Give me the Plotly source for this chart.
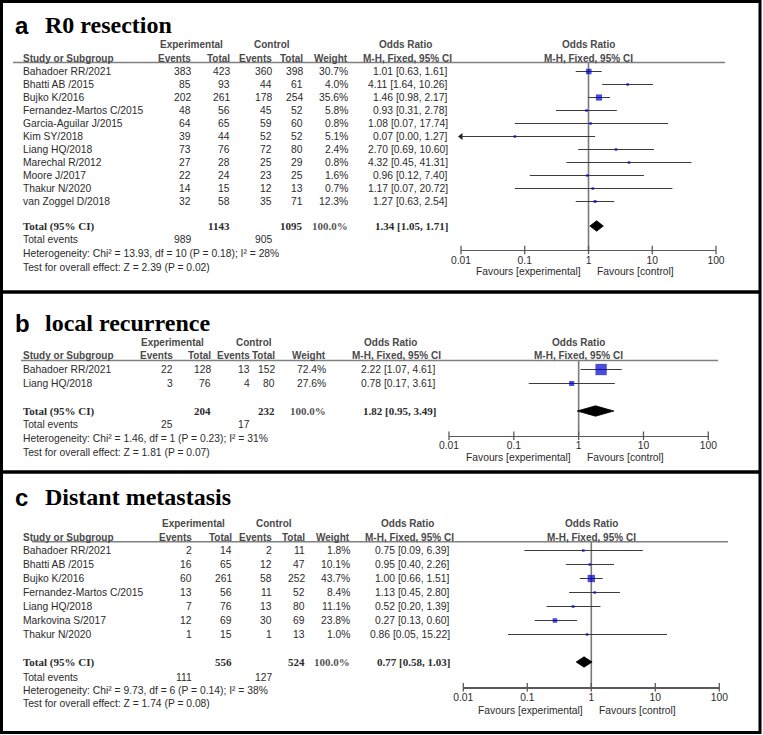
import plotly.graph_objects as go

# ---------------- DATA ----------------
# Panel a: R0 resection
studies_a = ["Bahadoer RR/2021", "Bhatti AB /2015", "Bujko K/2016", "Fernandez-Martos C/2015",
             "Garcia-Aguilar J/2015", "Kim SY/2018", "Liang HQ/2018", "Marechal R/2012",
             "Moore J/2017", "Thakur N/2020", "van Zoggel D/2018"]
exp_events_a = [383, 85, 202, 48, 64, 39, 73, 27, 22, 14, 32]
exp_total_a = [423, 93, 261, 56, 65, 44, 76, 28, 24, 15, 58]
ctl_events_a = [360, 44, 178, 45, 59, 52, 72, 25, 23, 12, 35]
ctl_total_a = [398, 61, 254, 52, 60, 52, 80, 29, 25, 13, 71]
weight_a = [30.7, 4.0, 35.6, 5.8, 0.8, 5.1, 2.4, 0.8, 1.6, 0.7, 12.3]
or_a = [1.01, 4.11, 1.46, 0.93, 1.08, 0.07, 2.70, 4.32, 0.96, 1.17, 1.27]
lo_a = [0.63, 1.64, 0.98, 0.31, 0.07, 0.00, 0.69, 0.45, 0.12, 0.07, 0.63]
hi_a = [1.61, 10.26, 2.17, 2.78, 17.74, 1.27, 10.60, 41.31, 7.40, 20.72, 2.54]
totals_a = [1143, 1095]
total_events_a = [989, 905]
pooled_a = [1.34, 1.05, 1.71]
het_a = "Heterogeneity: Chi² = 13.93, df = 10 (P = 0.18); I² = 28%"
test_a = "Test for overall effect: Z = 2.39 (P = 0.02)"

# Panel b: local recurrence
studies_b = ["Bahadoer RR/2021", "Liang HQ/2018"]
exp_events_b = [22, 3]
exp_total_b = [128, 76]
ctl_events_b = [13, 4]
ctl_total_b = [152, 80]
weight_b = [72.4, 27.6]
or_b = [2.22, 0.78]
lo_b = [1.07, 0.17]
hi_b = [4.61, 3.61]
totals_b = [204, 232]
total_events_b = [25, 17]
pooled_b = [1.82, 0.95, 3.49]
het_b = "Heterogeneity: Chi² = 1.46, df = 1 (P = 0.23); I² = 31%"
test_b = "Test for overall effect: Z = 1.81 (P = 0.07)"

# Panel c: Distant metastasis
studies_c = ["Bahadoer RR/2021", "Bhatti AB /2015", "Bujko K/2016", "Fernandez-Martos C/2015",
             "Liang HQ/2018", "Markovina S/2017", "Thakur N/2020"]
exp_events_c = [2, 16, 60, 13, 7, 12, 1]
exp_total_c = [14, 65, 261, 56, 76, 69, 15]
ctl_events_c = [2, 12, 58, 11, 13, 30, 1]
ctl_total_c = [11, 47, 252, 52, 80, 69, 13]
weight_c = [1.8, 10.1, 43.7, 8.4, 11.1, 23.8, 1.0]
or_c = [0.75, 0.95, 1.00, 1.13, 0.52, 0.27, 0.86]
lo_c = [0.09, 0.40, 0.66, 0.45, 0.20, 0.13, 0.05]
hi_c = [6.39, 2.26, 1.51, 2.80, 1.39, 0.60, 15.22]
totals_c = [556, 524]
total_events_c = [111, 127]
pooled_c = [0.77, 0.58, 1.03]
het_c = "Heterogeneity: Chi² = 9.73, df = 6 (P = 0.14); I² = 38%"
test_c = "Test for overall effect: Z = 1.74 (P = 0.08)"

tick_vals = [0.01, 0.1, 1, 10, 100]
tick_text = ["0.01", "0.1", "1", "10", "100"]

# ---------------- LAYOUT (pixel geometry) ----------------
W, H = 763, 735
SANS = "Arial, Liberation Sans, sans-serif"
SERIF = "Times New Roman, Liberation Serif, serif"
TXT = "#2b2b2b"
HDR = "#4a4a4a"

panels = [
    dict(letter="a", title="R0 resection", studies=studies_a, ee=exp_events_a, et=exp_total_a,
         ce=ctl_events_a, ct=ctl_total_a, w=weight_a, orv=or_a, lo=lo_a, hi=hi_a,
         tot=totals_a, tev=total_events_a, pooled=pooled_a, het=het_a, test=test_a,
         title_y=25, h1=45, h2=58, line_y=62.5, line_x=(13, 725), row0=71.5, step=13.0,
         total_y=226, events_y=240, het_y=253.5, test_y=267, axis_y=250, fav_y=271,
         ax_x=(461, 716), cols=(193, 232, 274, 305, 350, 450),
         exp_hdr=192, ctl_hdr=272, or_hdr1=405, or_hdr2=407),
    dict(letter="b", title="local recurrence", studies=studies_b, ee=exp_events_b, et=exp_total_b,
         ce=ctl_events_b, ct=ctl_total_b, w=weight_b, orv=or_b, lo=lo_b, hi=hi_b,
         tot=totals_b, tev=total_events_b, pooled=pooled_b, het=het_b, test=test_b,
         title_y=323, h1=342, h2=355.5, line_y=360.5, line_x=(21, 718), row0=369.5, step=14.0,
         total_y=411, events_y=424, het_y=438, test_y=453, axis_y=435.7, fav_y=457,
         ax_x=(449, 708.3), cols=(175, 213, 252, 277, 328, 438),
         exp_hdr=172.5, ctl_hdr=254, or_hdr1=390, or_hdr2=396),
    dict(letter="c", title="Distant metastasis", studies=studies_c, ee=exp_events_c, et=exp_total_c,
         ce=ctl_events_c, ct=ctl_total_c, w=weight_c, orv=or_c, lo=lo_c, hi=hi_c,
         tot=totals_c, tev=total_events_c, pooled=pooled_c, het=het_c, test=test_c,
         title_y=497, h1=523, h2=537, line_y=541.7, line_x=(32, 728), row0=550.5, step=14.0,
         total_y=662, events_y=677, het_y=690, test_y=703.5, axis_y=687.3, fav_y=710,
         ax_x=(463.3, 719.3), cols=(194, 234, 274, 307, 352, 452),
         exp_hdr=193, ctl_hdr=274, or_hdr1=407, or_hdr2=409),
]


def PX(x):
    return x / W


def PY(y):
    return 1 - y / H


fig = go.Figure()
annotations = []
shapes = []


def text(x, y, s, anchor="left", size=10.3, color=TXT, family=SANS):
    annotations.append(dict(x=PX(x), y=PY(y), xref="paper", yref="paper", text=s,
                            showarrow=False, xanchor=anchor, yanchor="middle",
                            font=dict(family=family, size=size, color=color)))


HS = 10  # header font size

layout_axes = {}
for k, p in enumerate(panels, start=1):
    xa = "x" if k == 1 else f"x{k}"
    ya = "y" if k == 1 else f"y{k}"
    xkey = "xaxis" if k == 1 else f"xaxis{k}"
    ykey = "yaxis" if k == 1 else f"yaxis{k}"
    row0, step = p["row0"], p["step"]
    y_top = (p["line_y"] - row0) / step
    y_bot = (p["axis_y"] - row0) / step
    n = len(p["studies"])
    y_total = (p["total_y"] - row0) / step

    layout_axes[xkey] = dict(type="log", range=[-2, 2], domain=[PX(p["ax_x"][0]), PX(p["ax_x"][1])],
                             anchor=ya, showgrid=False, zeroline=False, showline=True,
                             linecolor="#5a5a5a", linewidth=1.3, ticks="",
                             tickvals=tick_vals, ticktext=tick_text, automargin=False,
                             tickfont=dict(family=SANS, size=10.3, color=TXT))
    layout_axes[ykey] = dict(range=[y_bot, y_top], domain=[PY(p["axis_y"]), PY(p["line_y"])],
                             anchor=xa, visible=False, showgrid=False, zeroline=False, automargin=False)

    # vertical line of no effect
    fig.add_trace(go.Scatter(x=[1, 1], y=[y_top, y_bot], mode="lines", xaxis=xa, yaxis=ya,
                             line=dict(color="#7a7a7a", width=1.6), hoverinfo="skip", cliponaxis=False))
    # axis tick marks
    fig.add_trace(go.Scatter(x=tick_vals, y=[y_bot] * len(tick_vals), mode="markers", xaxis=xa, yaxis=ya,
                             marker=dict(symbol="line-ns", size=6, line=dict(color="#5a5a5a", width=1.3)),
                             hoverinfo="skip", cliponaxis=False))
    # CI lines
    cx, cy = [], []
    ax_, ay_ = [], []
    for i in range(n):
        lo = max(p["lo"][i], 0.01)
        hi = min(p["hi"][i], 100)
        cx += [lo, hi, None]
        cy += [i, i, None]
        if p["lo"][i] < 0.01:
            ax_.append(0.01)
            ay_.append(i)
    fig.add_trace(go.Scatter(x=cx, y=cy, mode="lines", xaxis=xa, yaxis=ya,
                             line=dict(color="#3c3c3c", width=1), hoverinfo="skip", cliponaxis=False))
    if ax_:
        fig.add_trace(go.Scatter(x=ax_, y=ay_, mode="markers", xaxis=xa, yaxis=ya,
                                 marker=dict(symbol="triangle-left", size=6, color="#222222"),
                                 hoverinfo="skip", cliponaxis=False))
    # squares
    sizes = [max(2.6, 1.2 + 0.14 * w) for w in p["w"]]
    fig.add_trace(go.Scatter(x=p["orv"], y=list(range(n)), mode="markers", xaxis=xa, yaxis=ya,
                             marker=dict(symbol="square", size=sizes, color="#0000CC", line=dict(width=0)),
                             hoverinfo="skip", cliponaxis=False))
    # diamond
    est, plo, phi = p["pooled"]
    hh = 5.2 / step
    fig.add_trace(go.Scatter(x=[plo, est, phi, est, plo], y=[y_total, y_total - hh, y_total, y_total + hh, y_total],
                             mode="lines", fill="toself", fillcolor="black", xaxis=xa, yaxis=ya,
                             line=dict(color="black", width=0.8), hoverinfo="skip", cliponaxis=False))

    # ---- text ----
    annotations.append(dict(x=PX(13), y=PY(p["title_y"]), xref="paper", yref="paper", text=f"<b>{p['letter']}</b>",
                            showarrow=False, xanchor="left", yanchor="middle",
                            font=dict(family=SANS, size=24, color="black")))
    annotations.append(dict(x=PX(43), y=PY(p["title_y"]), xref="paper", yref="paper", text=f"<b>{p['title']}</b>",
                            showarrow=False, xanchor="left", yanchor="middle",
                            font=dict(family=SERIF, size=24, color="black")))
    c = p["cols"]
    text(p["exp_hdr"], p["h1"], "<b>Experimental</b>", "center", size=HS, color=HDR)
    text(p["ctl_hdr"], p["h1"], "<b>Control</b>", "center", size=HS, color=HDR)
    text(p["or_hdr1"], p["h1"], "<b>Odds Ratio</b>", "center", size=HS, color=HDR)
    text(21, p["h2"], "<b>Study or Subgroup</b>", "left", size=HS, color=HDR)
    for xx, lab in zip(c[:5], ["Events", "Total", "Events", "Total", "Weight"]):
        text(xx, p["h2"], f"<b>{lab}</b>", "right", size=HS, color=HDR)
    text(p["or_hdr2"], p["h2"], "<b>M-H, Fixed, 95% CI</b>", "center", size=HS, color=HDR)
    # plot header centred on OR = 1
    for yy, lab in [(p["h1"], "<b>Odds Ratio</b>"), (p["h2"], "<b>M-H, Fixed, 95% CI</b>")]:
        annotations.append(dict(x=0, y=PY(yy), xref=xa, yref="paper", text=lab, showarrow=False,
                                xanchor="center", yanchor="middle",
                                font=dict(family=SANS, size=HS, color=HDR)))
    # header line
    shapes.append(dict(type="line", xref="paper", yref="paper", x0=PX(p["line_x"][0]), x1=PX(p["line_x"][1]),
                       y0=PY(p["line_y"]), y1=PY(p["line_y"]), line=dict(color="#808080", width=1.4)))
    # study rows
    for i in range(n):
        yy = row0 + i * step
        text(21, yy, p["studies"][i])
        vals = [str(p["ee"][i]), str(p["et"][i]), str(p["ce"][i]), str(p["ct"][i]), f"{p['w'][i]:.1f}%",
                f"{p['orv'][i]:.2f} [{p['lo'][i]:.2f}, {p['hi'][i]:.2f}]"]
        for xx, v in zip(c, vals):
            text(xx, yy, v, "right")
    # total row
    ty = p["total_y"]
    text(21, ty, "<b>Total (95% CI)</b>", "left", size=11, color=TXT, family=SERIF)
    text(c[1], ty, f"<b>{p['tot'][0]}</b>", "right", size=11, color=TXT, family=SERIF)
    text(c[3], ty, f"<b>{p['tot'][1]}</b>", "right", size=11, color=TXT, family=SERIF)
    text(c[4], ty, "<b>100.0%</b>", "right", size=11, color="#555555", family=SERIF)
    text(c[5], ty, f"<b>{est:.2f} [{plo:.2f}, {phi:.2f}]</b>", "right", size=11, color=TXT, family=SERIF)
    text(21, p["events_y"], "Total events")
    text(c[0], p["events_y"], str(p["tev"][0]), "right")
    text(c[2], p["events_y"], str(p["tev"][1]), "right")
    text(21, p["het_y"], p["het"])
    text(21, p["test_y"], p["test"])
    # favours labels
    annotations.append(dict(x=0, y=PY(p["fav_y"]), xref=xa, yref="paper", text="Favours [experimental]",
                            showarrow=False, xanchor="right", yanchor="middle", xshift=-6,
                            font=dict(family=SANS, size=10.3, color=TXT)))
    annotations.append(dict(x=0, y=PY(p["fav_y"]), xref=xa, yref="paper", text="Favours [control]",
                            showarrow=False, xanchor="left", yanchor="middle", xshift=6,
                            font=dict(family=SANS, size=10.3, color=TXT)))

# borders and separators
shapes.append(dict(type="rect", xref="paper", yref="paper", x0=PX(1.5), x1=PX(760), y0=PY(1.5), y1=PY(732.5),
                   line=dict(color="black", width=3)))
for sy in [292, 472]:
    shapes.append(dict(type="line", xref="paper", yref="paper", x0=PX(1.5), x1=PX(760), y0=PY(sy), y1=PY(sy),
                       line=dict(color="black", width=3.5)))

fig.update_layout(width=W, height=H, autosize=False, margin=dict(l=0, r=0, t=0, b=0, pad=0),
                  paper_bgcolor="white", plot_bgcolor="white", showlegend=False, hovermode=False,
                  annotations=annotations, shapes=shapes, **layout_axes)

fig.write_html("out.html", config={"displayModeBar": False, "staticPlot": True},
               post_script="document.body.style.margin='0';document.body.style.padding='0';"
                           "document.body.style.overflow='hidden';")
